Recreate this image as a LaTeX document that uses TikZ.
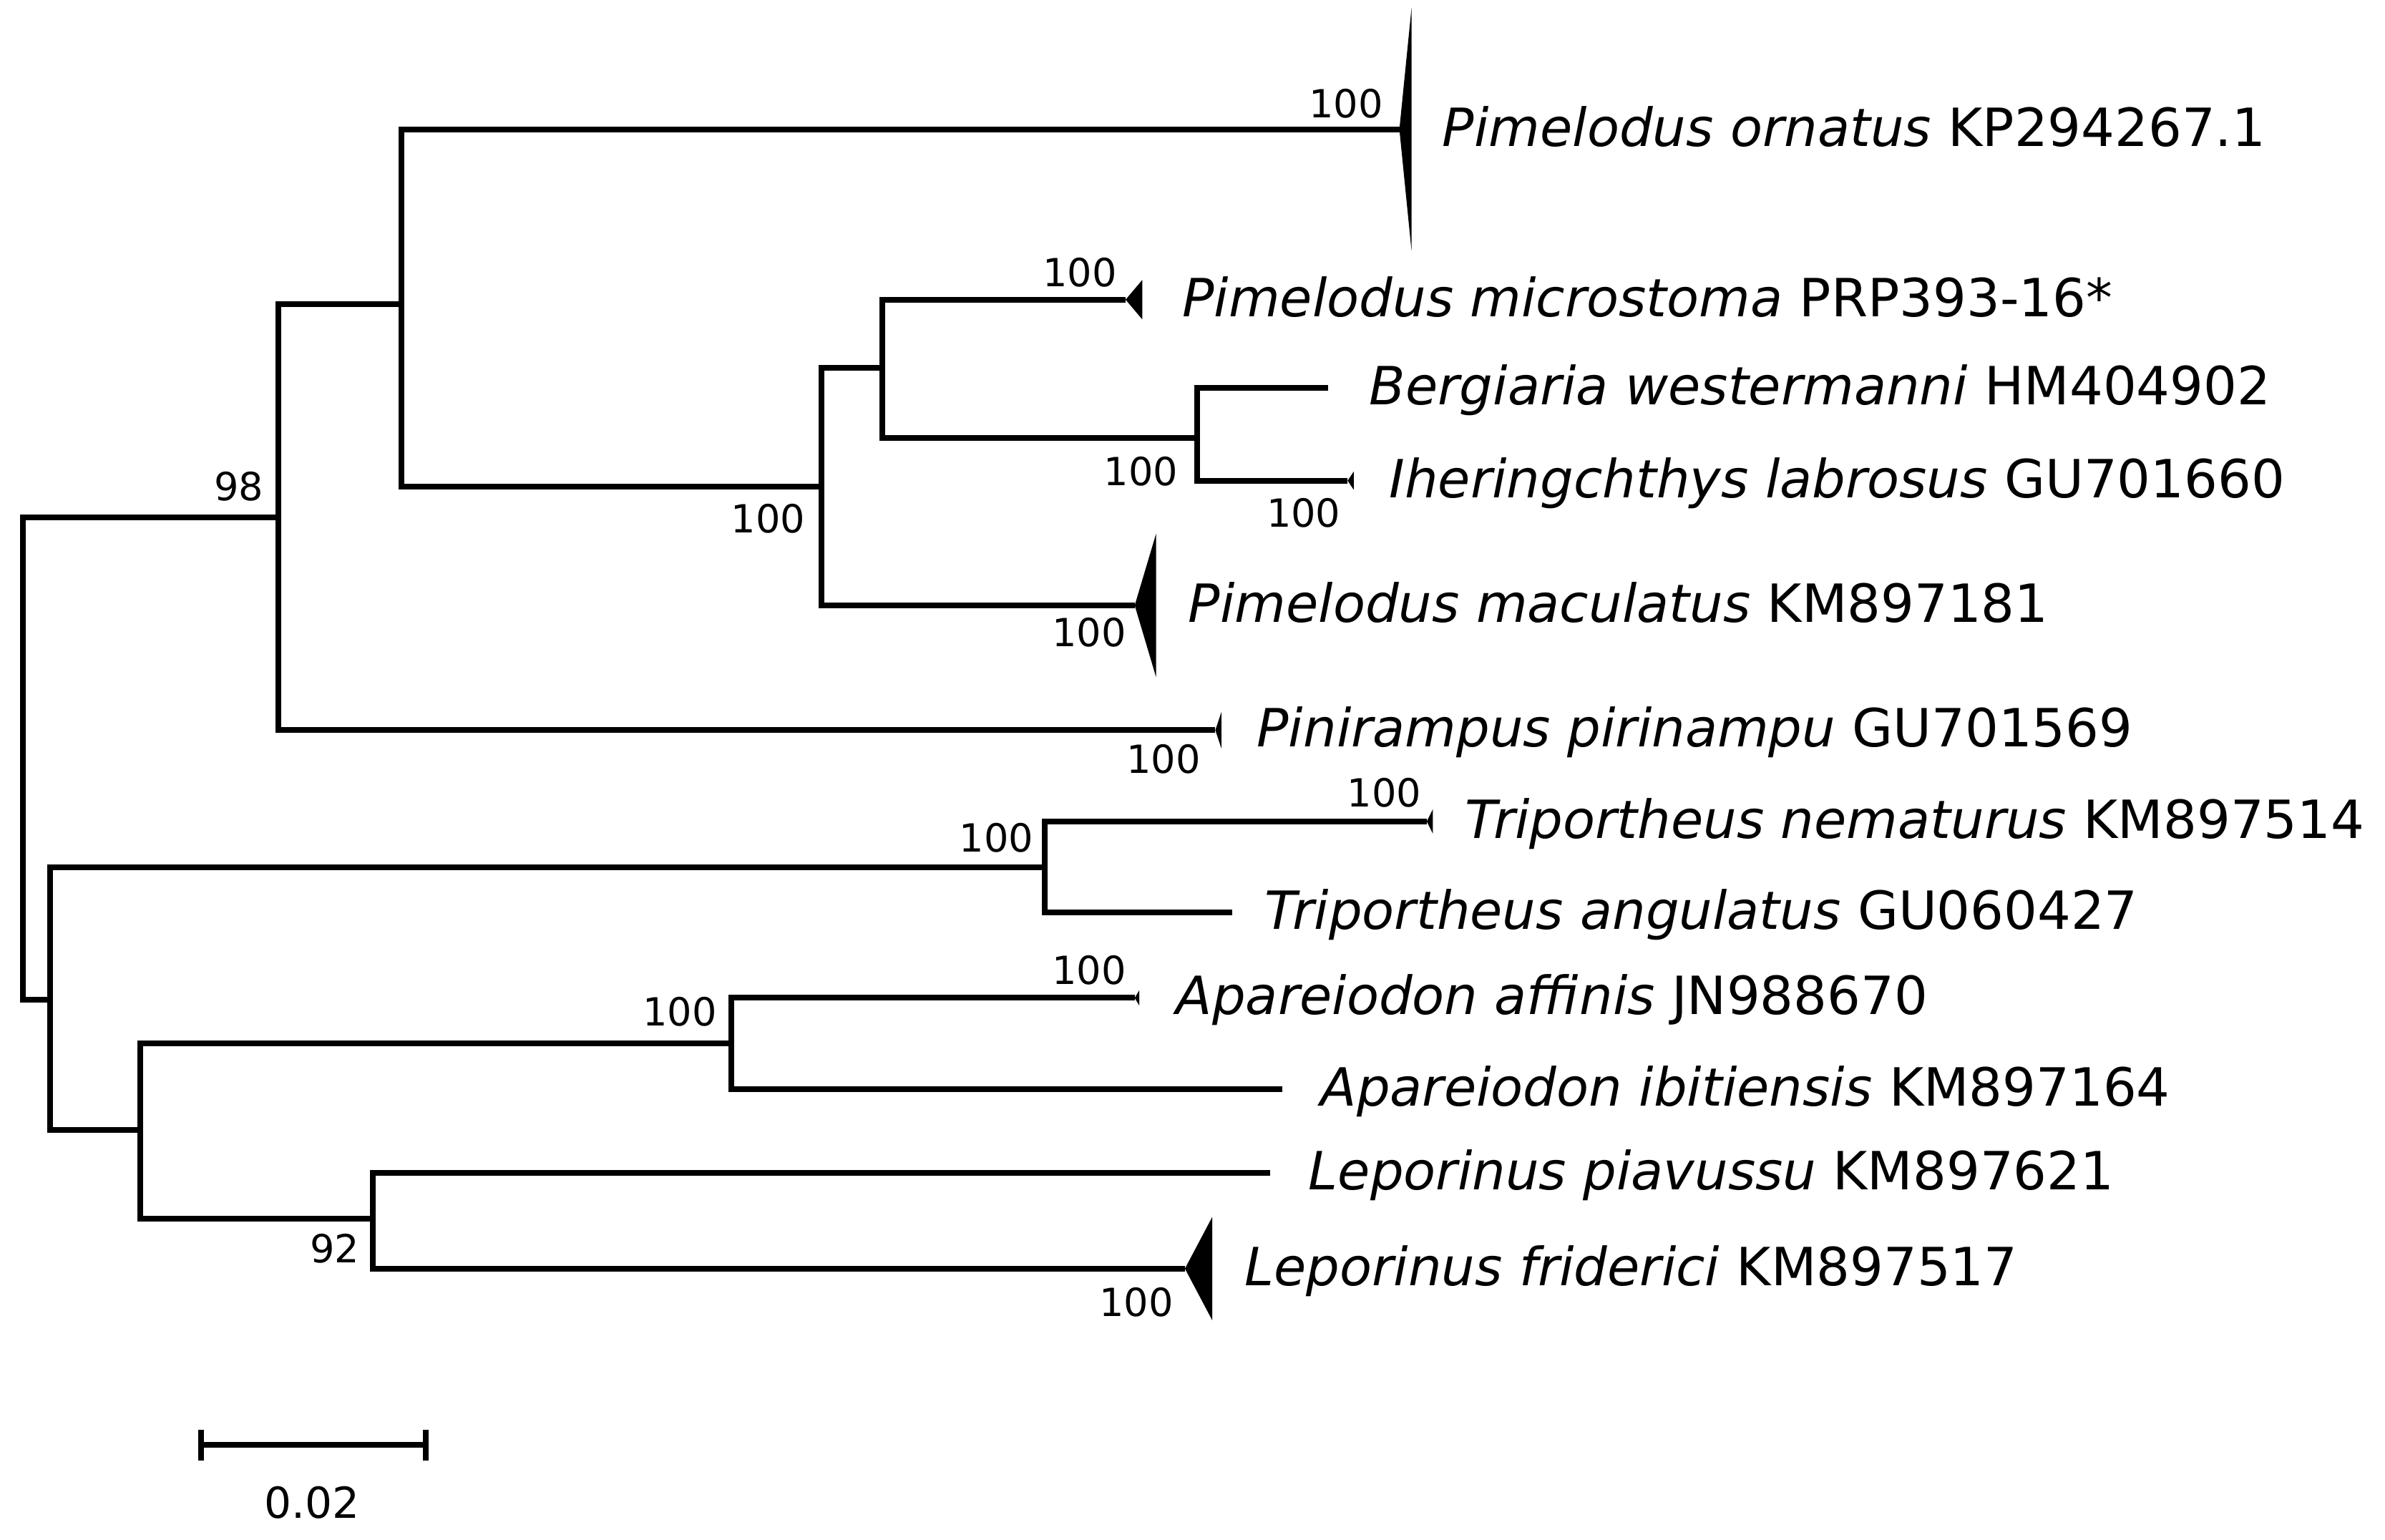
\documentclass[tikz,border=0pt]{standalone}
\usepackage{fontspec}
\setmainfont{DejaVu Sans}
\usetikzlibrary{positioning,calc}
\tikzset{
    branch/.style={draw=black,line width=0.075cm},
    taxon/.style={anchor=base west,inner sep=0pt,font=\fontsize{19.7}{24}\selectfont},
    boot/.style={inner sep=0pt,font=\fontsize{14.5}{17}\selectfont},
}
\newcommand\drawwedge[3]{%
    \fill [black] (#1) -- ++(#2,-#3) -- ++(0,2*#3) -- cycle}
\newcommand\taxlabel[4]{%
    \node [taxon] (l#1) at ($(#1)+(#2,11)$) {\textit{#3} #4}}

\begin{document}
\begin{tikzpicture}[x=0.2mm,y=-0.2mm]
            \useasboundingbox (0,0) rectangle (1568,1012);
            \coordinate (root) at (15,498);
            \coordinate (n98) at (183,340);
            \coordinate (nB) at (264,200);
            \coordinate (tOrn) at (920,85);
            \coordinate (nC) at (540,320);
            \coordinate (nD) at (580,242);
            \coordinate (tMic) at (740,197);
            \coordinate (nE) at (787,288);
            \coordinate (tBer) at (873,255);
            \coordinate (tIhe) at (886,316);
            \coordinate (tMac) at (746,398);
            \coordinate (tPin) at (799,480);
            \coordinate (nF) at (33,657);
            \coordinate (nG) at (687,570);
            \coordinate (tTne) at (938,540);
            \coordinate (tTan) at (810,600);
            \coordinate (nH) at (92,743);
            \coordinate (nI) at (481,686);
            \coordinate (tAaf) at (746,656);
            \coordinate (tAib) at (843,716);
            \coordinate (nJ) at (245,801);
            \coordinate (tLpi) at (835,771);
            \coordinate (tLfr) at (779,834);
            \draw [branch] (root) |- (n98);
            \draw [branch] (root) |- (nF);
            \draw [branch] (n98) |- (nB);
            \draw [branch] (n98) |- (tPin);
            \draw [branch] (nB) |- (tOrn);
            \draw [branch] (nB) |- (nC);
            \draw [branch] (nC) |- (nD);
            \draw [branch] (nC) |- (tMac);
            \draw [branch] (nD) |- (tMic);
            \draw [branch] (nD) |- (nE);
            \draw [branch] (nE) |- (tBer);
            \draw [branch] (nE) |- (tIhe);
            \draw [branch] (nF) |- (nG);
            \draw [branch] (nF) |- (nH);
            \draw [branch] (nG) |- (tTne);
            \draw [branch] (nG) |- (tTan);
            \draw [branch] (nH) |- (nI);
            \draw [branch] (nH) |- (nJ);
            \draw [branch] (nI) |- (tAaf);
            \draw [branch] (nI) |- (tAib);
            \draw [branch] (nJ) |- (tLpi);
            \draw [branch] (nJ) |- (tLfr);
            \drawwedge{tOrn}{8}{80};
            \drawwedge{tMic}{11}{13};
            \drawwedge{tIhe}{4}{6};
            \drawwedge{tMac}{14}{47};
            \drawwedge{tPin}{4}{12};
            \drawwedge{tTne}{4}{8};
            \drawwedge{tAaf}{3}{5};
            \drawwedge{tLfr}{18}{34};
            \taxlabel{tOrn}{28}{Pimelodus ornatus}{KP294267.1};
            \taxlabel{tMic}{37}{Pimelodus microstoma}{PRP393-16*};
            \taxlabel{tBer}{27}{Bergiaria westermanni}{HM404902};
            \taxlabel{tIhe}{27}{Iheringchthys labrosus}{GU701660};
            \taxlabel{tMac}{35}{Pimelodus maculatus}{KM897181};
            \taxlabel{tPin}{27}{Pinirampus pirinampu}{GU701569};
            \taxlabel{tTne}{25}{Triportheus nematurus}{KM897514};
            \taxlabel{tTan}{21}{Triportheus angulatus}{GU060427};
            \taxlabel{tAaf}{27}{Apareiodon affinis}{JN988670};
            \taxlabel{tAib}{25}{Apareiodon ibitiensis}{KM897164};
            \taxlabel{tLpi}{25}{Leporinus piavussu}{KM897621};
            \taxlabel{tLfr}{39}{Leporinus friderici}{KM897517};
            \node [boot] (bOrn) at (885,68) {100};
            \node [boot] (bMic) at (710,179) {100};
            \node [boot] (bE) at (750,310) {100};
            \node [boot] (bIhe) at (857,337) {100};
            \node [boot] (bC) at (505,341) {100};
            \node [boot] (bMac) at (716,416) {100};
            \node [boot] (b98) at (157,320) {98};
            \node [boot] (bPin) at (765,499) {100};
            \node [boot] (bTne) at (910,521) {100};
            \node [boot] (bG) at (655,551) {100};
            \node [boot] (bAaf) at (716,638) {100};
            \node [boot] (bI) at (447,665) {100};
            \node [boot] (bJ) at (220,821) {92};
            \node [boot] (bLfr) at (747,856) {100};
            \coordinate (sbL) at (132,950);
            \coordinate (sbR) at (280,950);
            \draw [branch] (sbL) -- (sbR);
            \draw [branch] ($(sbL)+(0,-10)$) -- ($(sbL)+(0,10)$);
            \draw [branch] ($(sbR)+(0,-10)$) -- ($(sbR)+(0,10)$);
            \node [boot,font=\fontsize{16}{19}\selectfont] (sbT) at (205,988) {0.02};
        \end{tikzpicture}
\end{document}
